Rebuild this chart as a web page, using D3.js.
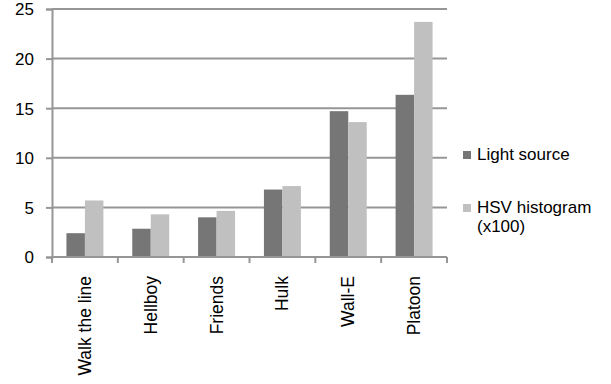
<!DOCTYPE html>
<html>
<head>
<meta charset="utf-8">
<script src="https://cdn.jsdelivr.net/npm/d3@7"></script>
<style>
  html, body { margin: 0; padding: 0; background: #fff; }
  svg text { font-family: "Liberation Sans", Arial, sans-serif; fill: #000; }
</style>
</head>
<body>
<svg id="chart" width="611" height="384"></svg>
<script>
// Per-movie measurements
const movies = ["Walk the line", "Hellboy", "Friends", "Hulk", "Wall-E", "Platoon"];
const lightSource = [2.4, 2.85, 4.0, 6.8, 14.7, 16.35];
const hsvHistogram = [5.7, 4.3, 4.65, 7.15, 13.6, 23.7];
const seriesNames = ["Light source", "HSV histogram (x100)"];
const seriesColors = ["#767676", "#c0c0c0"];
const yTicks = [0, 5, 10, 15, 20, 25];

const svg = d3.select("#chart");
const margin = { left: 52, right: 164, top: 9, bottom: 127 };
const W = 611, H = 384;
const x0 = margin.left, x1 = W - margin.right;
const y0 = H - margin.bottom, y1 = margin.top;

const x = d3.scaleBand().domain(movies).range([x0, x1]).paddingInner(0).paddingOuter(0);
const inner = d3.scaleBand().domain([0, 1]).range([0, x.bandwidth()]).paddingInner(0).paddingOuter(0.78);
const y = d3.scaleLinear().domain([0, 25]).range([y0, y1]);

const axisColor = "#969696";

// Horizontal gridlines
svg.append("g").selectAll("line").data(yTicks.filter(d => d > 0)).join("line")
  .attr("x1", x0).attr("x2", x1)
  .attr("y1", d => y(d)).attr("y2", d => y(d))
  .attr("stroke", axisColor).attr("stroke-width", 2);

// Bars
const rows = movies.map((m, i) => ({ m, v: [lightSource[i], hsvHistogram[i]] }));
svg.append("g").selectAll("g").data(rows).join("g")
  .attr("transform", d => `translate(${x(d.m)},0)`)
  .selectAll("rect").data(d => d.v.map((v, k) => ({ v, k }))).join("rect")
  .attr("x", d => inner(d.k))
  .attr("width", inner.bandwidth())
  .attr("y", d => y(d.v))
  .attr("height", d => y0 - y(d.v))
  .attr("fill", d => seriesColors[d.k]);

// Y axis
const yAxis = svg.append("g").attr("transform", `translate(${x0},0)`)
  .call(d3.axisLeft(y).tickValues(yTicks).tickSize(6).tickPadding(12));
yAxis.select(".domain").attr("stroke", axisColor).attr("stroke-width", 2);
yAxis.selectAll(".tick line").attr("stroke", axisColor).attr("stroke-width", 2);
yAxis.selectAll(".tick text").attr("font-size", 17).attr("dy", "0.35em");

// X axis with category dividers
const xAxis = svg.append("g").attr("transform", `translate(0,${y0})`);
xAxis.append("line").attr("x1", x0 - 1).attr("x2", x1).attr("y1", 0).attr("y2", 0)
  .attr("stroke", axisColor).attr("stroke-width", 2);
const edges = movies.map(m => x(m)).concat([x1]);
xAxis.selectAll("line.div").data(edges).join("line").attr("class", "div")
  .attr("x1", d => d).attr("x2", d => d).attr("y1", 0).attr("y2", 6)
  .attr("stroke", axisColor).attr("stroke-width", 2);
xAxis.selectAll("text").data(movies).join("text")
  .attr("transform", d => `translate(${x(d) + x.bandwidth() / 2 + 6},19) rotate(-90)`)
  .attr("text-anchor", "end")
  .attr("font-size", 17.5)
  .text(d => d);

// Legend
const legend = svg.append("g");
const legendItems = [
  { lines: ["Light source"], y: 160 },
  { lines: ["HSV histogram", "(x100)"], y: 213 }
];
legendItems.forEach((it, i) => {
  legend.append("rect").attr("x", 463).attr("y", it.y - 9).attr("width", 8).attr("height", 8)
    .attr("fill", seriesColors[i]);
  const t = legend.append("text").attr("x", 477).attr("y", it.y).attr("font-size", 17);
  it.lines.forEach((ln, j) => t.append("tspan").attr("x", 477).attr("dy", j === 0 ? 0 : 19).text(ln));
});
</script>
</body>
</html>
